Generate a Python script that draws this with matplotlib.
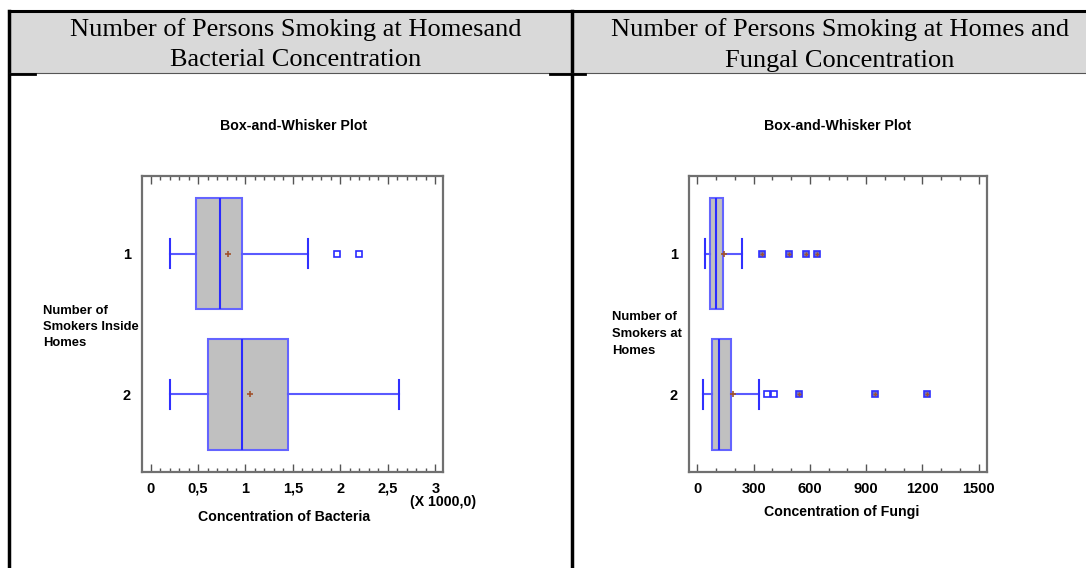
import matplotlib
matplotlib.use("Agg")
import matplotlib.pyplot as plt
from matplotlib.lines import Line2D
from matplotlib.patches import Rectangle
from matplotlib import font_manager

W, H = 1086, 568

# --- data ---
groups = ["1", "2"]

# bacteria, in units of 1000
bact_whislo = [0.20, 0.20]
bact_q1 = [0.48, 0.61]
bact_med = [0.73, 0.96]
bact_mean = [0.82, 1.05]
bact_q3 = [0.96, 1.45]
bact_whishi = [1.66, 2.62]
bact_near_out = [[1.96, 2.20], []]
bact_far_out = [[], []]
bact_ticks = [0, 0.5, 1, 1.5, 2, 2.5, 3]
bact_ticklabels = ["0", "0,5", "1", "1,5", "2", "2,5", "3"]

fungi_whislo = [39, 32]
fungi_q1 = [67, 76]
fungi_med = [99, 115]
fungi_mean = [144, 192]
fungi_q3 = [137, 179]
fungi_whishi = [235, 329]
fungi_near_out = [[], [371, 407]]
fungi_far_out = [[345, 487, 579, 640], [542, 947, 1225]]
fungi_ticks = [0, 300, 600, 900, 1200, 1500]
fungi_ticklabels = ["0", "300", "600", "900", "1200", "1500"]

headers = [["Number of Persons Smoking at Homesand", "Bacterial Concentration"],
           ["Number of Persons Smoking at Homes and", "Fungal Concentration"]]

avail = {f.name for f in font_manager.fontManager.ttflist}
narrow = "Liberation Sans Narrow" if "Liberation Sans Narrow" in avail else "Liberation Sans"
serif = "Liberation Serif"


def fx(x):
    return x / W


def fy(y):
    return 1 - y / H


fig = plt.figure(figsize=(W / 100, H / 100), dpi=100)

# table header
fig.add_artist(Rectangle((fx(9), fy(73)), fx(1086 - 9), 62 / H, transform=fig.transFigure,
                         facecolor="#d9d9d9", edgecolor="none", zorder=0))
for xs, ys, lw, c in [((9, 1086), (11, 11), 2.2, "black"),
                      ((9, 9), (11, 568), 2.5, "black"),
                      ((572, 572), (11, 568), 2.5, "black"),
                      ((9, 1086), (73, 73), 0.8, "#555555"),
                      ((9, 35), (73.5, 73.5), 2, "black"),
                      ((550, 585), (73.5, 73.5), 2, "black")]:
    fig.add_artist(Line2D([fx(v) for v in xs], [fy(v) for v in ys], lw=lw, color=c,
                          transform=fig.transFigure))

for lines, cx in zip(headers, [296, 840]):
    for txt, cy in zip(lines, [29.5, 60.5]):
        fig.text(fx(cx), fy(cy), txt, ha="center", va="center", family=serif,
                 fontsize=19)


def panel(ax, whislo, q1, med, mean, q3, whishi, near, far, ticks, ticklabels, minor_step):
    stats = []
    for i in range(len(groups)):
        stats.append(dict(label=groups[i], whislo=whislo[i], q1=q1[i], med=med[i],
                          mean=mean[i], q3=q3[i], whishi=whishi[i], fliers=[]))
    ax.bxp(stats, positions=[1, 2], widths=0.79, capwidths=0.2, orientation="horizontal",
           patch_artist=True, showmeans=True, showfliers=False,
           boxprops=dict(facecolor="#c0c0c0", edgecolor="#6464ff", linewidth=1.5),
           medianprops=dict(color="#2a2aff", linewidth=1.5),
           whiskerprops=dict(color="#5a5aff", linewidth=1.5),
           capprops=dict(color="#3030ff", linewidth=1.5),
           meanprops=dict(marker="+", markeredgecolor="#a0522d", markersize=5,
                          markeredgewidth=1.2))
    for i in range(len(groups)):
        if near[i]:
            ax.plot(near[i], [i + 1] * len(near[i]), ls="none", marker="s", markersize=4,
                    markerfacecolor="white", markeredgecolor="#2a2aff", markeredgewidth=1.2)
        if far[i]:
            ax.plot(far[i], [i + 1] * len(far[i]), ls="none", marker="s", markersize=4.5,
                    markerfacecolor="#7070c8", markeredgecolor="#3030ff", markeredgewidth=1.2)
            ax.plot(far[i], [i + 1] * len(far[i]), ls="none", marker="+", markersize=3.5,
                    markeredgecolor="#a0522d", markeredgewidth=1)
    ax.set_ylim(2.55, 0.45)
    ax.set_yticks([1, 2])
    ax.set_yticklabels(groups)
    ax.set_xticks(ticks)
    ax.set_xticklabels(ticklabels)
    ax.set_xticks([k * minor_step for k in range(int(round(ticks[-1] / minor_step)) + 1)],
                  minor=True)
    ax.tick_params(axis="x", which="both", direction="in", top=True, bottom=True,
                   color="#555555", width=1, pad=7)
    ax.tick_params(axis="x", which="major", length=6)
    ax.tick_params(axis="x", which="minor", length=3)
    ax.tick_params(axis="y", length=0, pad=8)
    for lab in ax.get_xticklabels() + ax.get_yticklabels():
        lab.set_fontfamily(narrow)
        lab.set_fontweight("bold")
        lab.set_fontsize(10.5)
    for s in ax.spines.values():
        s.set_color("#707070")
        s.set_linewidth(1.6)


ax1 = fig.add_axes([fx(142), fy(472), fx(443 - 142), (472 - 176) / H])
panel(ax1, bact_whislo, bact_q1, bact_med, bact_mean, bact_q3, bact_whishi,
      bact_near_out, bact_far_out, bact_ticks, bact_ticklabels, 0.1)
ax1.set_xlim(-0.09, 3.08)

ax2 = fig.add_axes([fx(689), fy(472), fx(987 - 689), (472 - 176) / H])
panel(ax2, fungi_whislo, fungi_q1, fungi_med, fungi_mean, fungi_q3, fungi_whishi,
      fungi_near_out, fungi_far_out, fungi_ticks, fungi_ticklabels, 100)
ax2.set_xlim(-45, 1544)

bold = dict(family=narrow, fontweight="bold", fontsize=10.2)
small = dict(family=narrow, fontweight="bold", fontsize=9.4)
fig.text(fx(294), fy(126), "Box-and-Whisker Plot", ha="center", va="center", **bold)
fig.text(fx(838), fy(126), "Box-and-Whisker Plot", ha="center", va="center", **bold)
fig.text(fx(43), fy(327), "Number of\nSmokers Inside\nHomes", ha="left", va="center",
         linespacing=1.5, **small)
fig.text(fx(612), fy(334), "Number of\nSmokers at\nHomes", ha="left", va="center",
         linespacing=1.5, **small)
fig.text(fx(284), fy(517), "Concentration of Bacteria", ha="center", va="center", **bold)
fig.text(fx(842), fy(512), "Concentration of Fungi", ha="center", va="center", **bold)
fig.text(fx(443), fy(502), "(X 1000,0)", ha="center", va="center", **bold)

fig.savefig("out.png", dpi=100)
